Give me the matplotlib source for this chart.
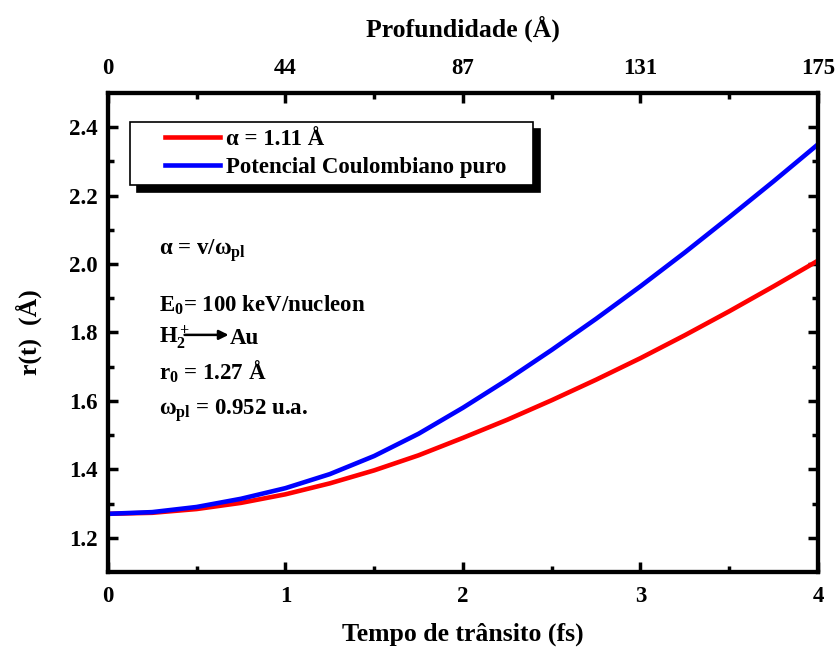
import numpy as np
import matplotlib
matplotlib.use('Agg')
import matplotlib.pyplot as plt
from matplotlib.legend_handler import HandlerLine2D

plt.rcParams['font.family'] = ['Liberation Serif', 'DejaVu Serif']
plt.rcParams['font.weight'] = 'bold'
plt.rcParams['mathtext.fontset'] = 'custom'
plt.rcParams['mathtext.rm'] = 'Liberation Serif:bold'
plt.rcParams['mathtext.it'] = 'Liberation Serif:bold'
plt.rcParams['mathtext.bf'] = 'Liberation Serif:bold'

# valores
t = [0, 0.25, 0.5, 0.75, 1.0, 1.25, 1.5, 1.75, 2.0, 2.25, 2.5, 2.75, 3.0, 3.25, 3.5, 3.75, 4.0]
r_alpha = [1.27, 1.273, 1.284, 1.302, 1.327, 1.359, 1.397, 1.441, 1.492, 1.545,
           1.602, 1.662, 1.725, 1.792, 1.862, 1.935, 2.01]
r_coul = [1.27, 1.275, 1.29, 1.314, 1.345, 1.386, 1.439, 1.504, 1.58, 1.662,
          1.749, 1.84, 1.935, 2.034, 2.137, 2.242, 2.35]
top_ticks = [0, 1, 2, 3, 4]
top_labels = ['0', '44', '87', '131', '175']

fig = plt.figure(figsize=(8.36, 6.48), dpi=100)
ax = fig.add_axes([0.129, 0.1173, 0.8495, 0.7392])

ax.plot(t, r_alpha, color='#ff0000', lw=3.3, label='α = 1.11 Å', zorder=3,
        solid_joinstyle='round')
ax.plot(t, r_coul, color='#0000ff', lw=3.3, label='Potencial Coulombiano puro', zorder=4,
        solid_joinstyle='round')

ax.set_xlim(0, 4)
ax.set_ylim(1.1, 2.5)
ax.set_xticks([0, 1, 2, 3, 4])
ax.set_xticklabels(['0', '1', '2', '3', '4'])
ax.set_xticks([0.5, 1.5, 2.5, 3.5], minor=True)
ax.set_yticks([1.2, 1.4, 1.6, 1.8, 2.0, 2.2, 2.4])
ax.set_yticklabels(['1.2', '1.4', '1.6', '1.8', '2.0', '2.2', '2.4'])
ax.set_yticks([1.3, 1.5, 1.7, 1.9, 2.1, 2.3], minor=True)
ax.tick_params(which='both', direction='in', width=2.5, labelsize=16.5, right=True)
ax.tick_params(which='major', length=7)
ax.tick_params(which='minor', length=4)
ax.tick_params(axis='x', pad=10)
ax.tick_params(axis='y', pad=7)
for s in ax.spines.values():
    s.set_linewidth(3)

ax.set_xlabel('Tempo de trânsito (fs)', fontsize=18.5, fontweight='bold')
ax.set_ylabel('r(t)  (Å)', fontsize=18.5, fontweight='bold')
ax.xaxis.set_label_coords(0.5, -0.105)
ax.yaxis.set_label_coords(-0.093, 0.5)

ax2 = ax.twiny()
ax2.set_xlim(0, 4)
ax2.set_xticks(top_ticks)
ax2.set_xticklabels(top_labels)
ax2.set_xticks([0.5, 1.5, 2.5, 3.5], minor=True)
ax2.tick_params(which='both', direction='in', width=2.5, labelsize=16.5, pad=10)
ax2.tick_params(which='major', length=7)
ax2.tick_params(which='minor', length=4)
ax2.set_xlabel('Profundidade (Å)', fontsize=18.5, fontweight='bold')
ax2.xaxis.set_label_coords(0.5, 1.118)
for s in ax2.spines.values():
    s.set_linewidth(3)

hmap = {ln: HandlerLine2D(xpad=1.22) for ln in ax.get_lines()}
leg = ax.legend(loc='upper left', bbox_to_anchor=(0.031, 0.0, 0.5676, 0.939),
                mode='expand', borderaxespad=0, handler_map=hmap,
                fancybox=False, edgecolor='black', framealpha=1,
                shadow={'ox': 5, 'oy': -5, 'color': 'black', 'alpha': 1},
                prop={'size': 16.5, 'weight': 'bold'}, handlelength=3.62,
                handletextpad=0.26, borderpad=0.3, labelspacing=0.3)
leg.get_frame().set_linewidth(1.2)

kw = dict(transform=ax.transAxes, fontsize=16.5, fontweight='bold', va='baseline')
ax.text(0.072, 0.662, 'α = v/ω$_{\\rm pl}$', **kw)
ax.text(0.072, 0.543, 'E$_0$= 100 keV/nucleon', **kw)
ax.text(0.072, 0.476, 'H$_2^+$', **kw)
ax.annotate('', xy=(0.17, 0.495), xytext=(0.108, 0.495), xycoords='axes fraction',
            arrowprops=dict(arrowstyle='-|>', color='black', lw=1.8,
                            mutation_scale=14, shrinkA=0, shrinkB=0))
ax.text(0.171, 0.476, 'Au', **kw)
ax.text(0.072, 0.401, 'r$_0$ = 1.27 Å', **kw)
ax.text(0.072, 0.328, 'ω$_{\\rm pl}$ = 0.952 u.a.', **kw)

fig.savefig('out.png', dpi=100)
